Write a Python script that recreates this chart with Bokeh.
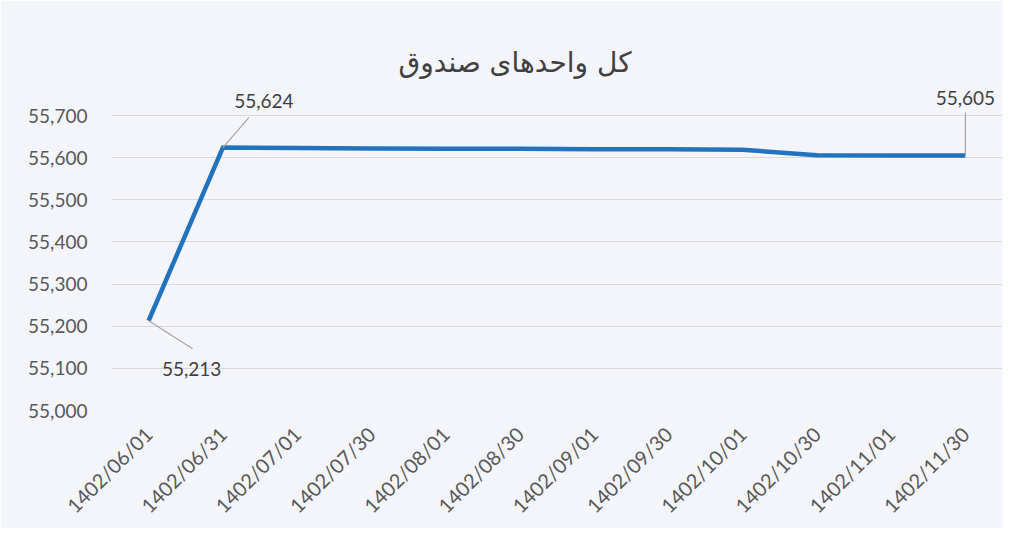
import math
from bokeh.plotting import figure
from bokeh.models import Range1d, FixedTicker, NumeralTickFormatter
from bokeh.core.properties import value
from bokeh.embed import file_html
from bokeh.resources import INLINE

title_text = "کل واحدهای صندوق"
dates = ["1402/06/01", "1402/06/31", "1402/07/01", "1402/07/30", "1402/08/01", "1402/08/30",
         "1402/09/01", "1402/09/30", "1402/10/01", "1402/10/30", "1402/11/01", "1402/11/30"]
units = [55213, 55624, 55623, 55622, 55621, 55621, 55620, 55620, 55619, 55606, 55605, 55605]
labelled = [0, 1, 11]
y_ticks = [55000, 55100, 55200, 55300, 55400, 55500, 55600, 55700]

W, H = 1003, 528
BL, BR, BT, BB = 111, 1, 78, 118
FW, FH = W - BL - BR, H - BT - BB
Y_TOP = 55788  # headroom above the top gridline for data labels

xs = list(range(len(dates)))
p = figure(width=W, height=H, output_backend="svg", toolbar_location=None,
           x_range=Range1d(-0.5, len(dates) - 0.5), y_range=Range1d(y_ticks[0], Y_TOP),
           min_border_left=BL, min_border_right=BR, min_border_top=BT, min_border_bottom=BB,
           background_fill_color="#f4f5fa", border_fill_color="#f4f5fa")
p.outline_line_color = None

p.title.text = title_text
p.title.align = "left"
p.title.text_font = "DejaVu Sans"
p.title.text_font_size = "28px"
p.title.text_font_style = "normal"
p.title.text_color = "#404040"
p.title.standoff = 0
p.title.offset = 287

p.xgrid.visible = False
p.ygrid.grid_line_color = "#d9d9d9"
p.ygrid.grid_line_width = 1

p.yaxis.ticker = FixedTicker(ticks=y_ticks)
p.yaxis.formatter = NumeralTickFormatter(format="0,0")
p.xaxis.ticker = FixedTicker(ticks=xs)
p.xaxis.major_label_overrides = {i: d for i, d in enumerate(dates)}
p.xaxis.major_label_orientation = math.pi / 4
for ax in (p.xaxis, p.yaxis):
    ax.axis_line_color = None
    ax.major_tick_line_color = None
    ax.minor_tick_line_color = None
    ax.major_label_text_font = "Lato"
    ax.major_label_text_color = "#595959"
    ax.major_label_text_font_size = "19px"
p.xaxis.major_label_text_font_size = "20px"
p.yaxis.major_label_standoff = 18
p.xaxis.major_label_standoff = 14

p.line(xs, units, line_color="#2173bd", line_width=4.5, line_join="round")

# data labels with leader lines (pixel offsets converted to data units)
upx = len(dates) / FW
vpx = (Y_TOP - y_ticks[0]) / FH
offsets = {0: ((43, -48), (44, -28)), 1: ((41, 47), (26, 30)), 11: ((0, 58), (0, 43))}
tx, ty, tt, sx0, sy0, sx1, sy1 = [], [], [], [], [], [], []
for i in labelled:
    (tdx, tdy), (ldx, ldy) = offsets[i]
    tx.append(xs[i] + tdx * upx)
    ty.append(units[i] + tdy * vpx)
    tt.append(f"{units[i]:,}")
    sx0.append(xs[i]); sy0.append(units[i])
    sx1.append(xs[i] + ldx * upx); sy1.append(units[i] + ldy * vpx)

p.segment(sx0, sy0, sx1, sy1, line_color="#a6a6a6", line_width=1.2)
p.text(tx, ty, text=tt, text_align="center", text_baseline="middle",
       text_font=value("Lato"), text_font_size="19px", text_color="#404040")

open("out.html", "w").write(file_html(p, INLINE))
